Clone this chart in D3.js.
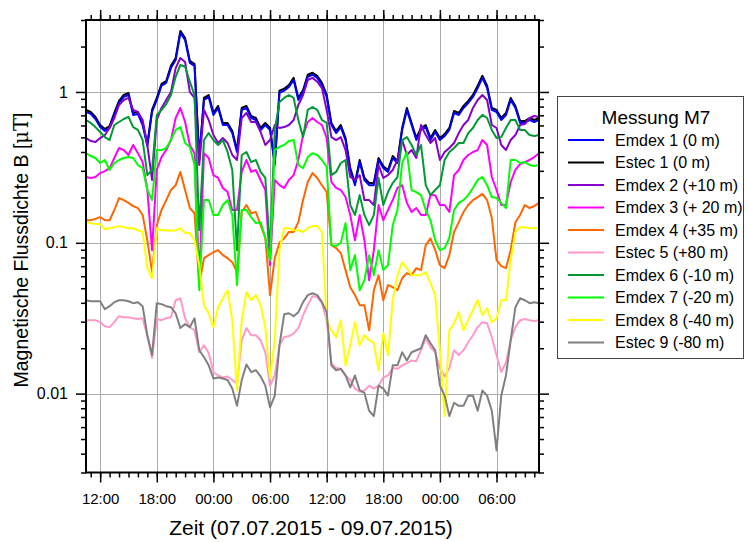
<!DOCTYPE html>
<html>
<head>
<meta charset="utf-8">
<script src="https://cdn.jsdelivr.net/npm/d3@7"></script>
<style>
  body { margin: 0; background: #fff; }
  svg { display: block; }
  text { font-family: "Liberation Sans", Arial, Helvetica, sans-serif; fill: #000; }
</style>
</head>
<body>
<svg id="chart" width="747" height="542"></svg>
<script>
// Half-hourly readings, 07.07.2015 10:30 to 09.07.2015 10:30 (UTC clock labels)
const startTime = Date.UTC(2015, 6, 7, 10, 30);
const stepMinutes = 30;

const emdex1 = [0.737,0.715,0.662,0.585,0.552,0.577,0.704,0.845,0.927,0.955,
0.704,0.715,0.604,0.438,0.737,0.885,1.10,1.15,1.44,1.63,
2.46,2.21,1.56,1.49,0.354,0.885,0.927,0.704,0.783,0.604,
0.604,0.534,0.400,0.760,0.783,0.672,0.652,0.560,0.604,0.560,
0.328,0.985,1.02,1.08,1.20,0.885,1.00,1.26,1.30,1.24,
1.11,0.927,0.604,0.534,0.585,0.480,0.304,0.241,0.343,0.261,
0.241,0.241,0.354,0.313,0.295,0.365,0.338,0.560,0.760,0.604,
0.480,0.560,0.585,0.480,0.543,0.480,0.510,0.560,0.726,0.704,
0.783,0.845,0.927,1.06,1.24,1.06,0.760,0.737,0.652,0.704,
0.885,0.783,0.623,0.623,0.652,0.632,0.652];

const estec1 = [0.760,0.737,0.683,0.604,0.568,0.595,0.726,0.872,0.955,0.985,
0.726,0.737,0.623,0.452,0.760,0.913,1.13,1.18,1.49,1.68,
2.54,2.28,1.61,1.53,0.365,0.913,0.955,0.726,0.808,0.623,
0.623,0.552,0.412,0.783,0.808,0.693,0.672,0.577,0.623,0.577,
0.338,1.02,1.05,1.11,1.24,0.913,1.03,1.30,1.34,1.28,
1.15,0.955,0.623,0.552,0.604,0.495,0.313,0.249,0.354,0.269,
0.249,0.249,0.365,0.322,0.304,0.376,0.348,0.577,0.783,0.623,
0.495,0.577,0.604,0.495,0.560,0.495,0.526,0.577,0.748,0.726,
0.808,0.872,0.955,1.10,1.28,1.10,0.783,0.760,0.672,0.726,
0.913,0.808,0.642,0.642,0.672,0.652,0.672];

const emdex2 = [0.495,0.473,0.466,0.495,0.518,0.577,0.672,0.820,0.885,0.913,
0.760,0.737,0.652,0.445,0.261,0.652,0.783,0.885,1.00,1.44,
1.68,1.58,1.00,0.913,0.328,0.760,0.652,0.518,0.459,0.495,
0.459,0.382,0.354,0.672,0.726,0.632,0.632,0.543,0.445,0.480,
0.604,0.577,0.585,0.604,0.652,0.820,0.955,1.20,1.24,1.17,
1.06,0.760,0.502,0.480,0.502,0.412,0.273,0.261,0.281,0.192,
0.192,0.178,0.328,0.269,0.281,0.304,0.354,0.480,0.382,0.412,
0.365,0.604,0.518,0.459,0.495,0.354,0.400,0.425,0.459,0.534,
0.604,0.652,0.783,0.885,0.955,0.885,0.604,0.577,0.445,0.412,
0.480,0.518,0.604,0.613,0.672,0.693,0.683];

const emdex3 = [0.273,0.269,0.273,0.290,0.299,0.313,0.365,0.425,0.412,0.382,
0.445,0.393,0.343,0.224,0.0894,0.304,0.370,0.412,0.480,0.672,
0.783,0.632,0.445,0.393,0.0565,0.393,0.365,0.281,0.269,0.231,
0.217,0.165,0.165,0.295,0.354,0.295,0.304,0.261,0.224,0.0711,
0.261,0.241,0.231,0.261,0.281,0.354,0.518,0.632,0.672,0.632,
0.604,0.495,0.253,0.231,0.224,0.201,0.153,0.104,0.153,0.104,
0.0565,0.0894,0.178,0.141,0.165,0.192,0.231,0.241,0.184,0.160,
0.170,0.153,0.153,0.207,0.207,0.178,0.178,0.160,0.281,0.304,
0.354,0.382,0.400,0.412,0.480,0.445,0.273,0.224,0.178,0.178,
0.253,0.304,0.333,0.343,0.354,0.370,0.393];

const emdex4 = [0.141,0.141,0.144,0.148,0.141,0.141,0.165,0.198,0.192,0.184,
0.175,0.170,0.153,0.104,0.0639,0.131,0.165,0.192,0.224,0.241,
0.295,0.224,0.170,0.157,0.0524,0.0791,0.0828,0.0866,0.0894,0.0828,
0.0791,0.0744,0.0639,0.160,0.178,0.157,0.160,0.131,0.108,0.0450,
0.0791,0.100,0.107,0.118,0.118,0.137,0.192,0.253,0.290,0.269,
0.241,0.217,0.0965,0.0923,0.0855,0.0659,0.0508,0.0450,0.0386,0.0386,
0.0263,0.0485,0.0610,0.0416,0.0524,0.0508,0.0485,0.0582,0.0630,0.0610,
0.0679,0.0659,0.0965,0.107,0.0894,0.0711,0.0679,0.0828,0.118,0.137,
0.160,0.178,0.192,0.201,0.211,0.192,0.146,0.0767,0.0700,0.0679,
0.0894,0.137,0.153,0.178,0.170,0.175,0.184];

const estec5 = [0.0307,0.0307,0.0307,0.0298,0.0280,0.0276,0.0298,0.0326,0.0321,0.0321,
0.0316,0.0312,0.0316,0.0240,0.0172,0.0312,0.0307,0.0316,0.0321,0.0416,
0.0429,0.0316,0.0276,0.0263,0.0188,0.0209,0.0186,0.0139,0.0132,0.0128,
0.0130,0.0123,0.0117,0.0226,0.0272,0.0244,0.0244,0.0226,0.0188,0.0112,
0.0132,0.0209,0.0237,0.0240,0.0251,0.0272,0.0331,0.0386,0.0443,0.0437,
0.0398,0.0307,0.0159,0.0148,0.0146,0.0132,0.0123,0.0108,0.0103,0.0105,
0.0113,0.0108,0.0113,0.0128,0.0132,0.0148,0.0146,0.0154,0.0159,0.0166,
0.0164,0.0194,0.0233,0.0203,0.0188,0.0148,0.0130,0.0148,0.0194,0.0180,
0.0194,0.0219,0.0244,0.0276,0.0298,0.0293,0.0237,0.0180,0.0139,0.0161,
0.0226,0.0276,0.0307,0.0312,0.0307,0.0303,0.0307];

const emdex6 = [0.652,0.623,0.585,0.543,0.502,0.480,0.604,0.632,0.662,0.683,
0.585,0.560,0.480,0.281,0.304,0.704,0.760,0.832,0.955,1.26,
1.51,1.47,1.17,0.955,0.121,0.480,0.534,0.480,0.445,0.480,
0.400,0.304,0.0894,0.382,0.400,0.343,0.354,0.295,0.269,0.0894,
0.560,0.858,0.913,0.955,0.913,0.652,0.502,0.760,0.795,0.760,
0.652,0.623,0.281,0.295,0.338,0.354,0.178,0.153,0.207,0.153,
0.131,0.153,0.269,0.178,0.217,0.249,0.273,0.480,0.502,0.445,
0.382,0.445,0.241,0.207,0.224,0.241,0.354,0.400,0.425,0.459,
0.459,0.534,0.577,0.652,0.704,0.672,0.560,0.495,0.502,0.577,
0.652,0.652,0.560,0.560,0.518,0.510,0.518];

const emdex7 = [0.393,0.376,0.365,0.338,0.354,0.304,0.338,0.354,0.365,0.370,
0.365,0.328,0.313,0.224,0.192,0.412,0.412,0.425,0.480,0.560,
0.585,0.459,0.432,0.328,0.0485,0.192,0.192,0.153,0.153,0.178,
0.192,0.153,0.0524,0.165,0.165,0.148,0.135,0.137,0.108,0.0767,
0.412,0.432,0.445,0.473,0.480,0.328,0.313,0.370,0.393,0.382,
0.354,0.318,0.0965,0.0951,0.100,0.135,0.0659,0.0828,0.0485,0.0565,
0.0828,0.0610,0.0894,0.0659,0.0711,0.131,0.165,0.338,0.400,0.224,
0.217,0.207,0.165,0.141,0.104,0.0894,0.0923,0.108,0.165,0.184,
0.192,0.207,0.231,0.261,0.273,0.241,0.201,0.198,0.184,0.170,
0.354,0.354,0.338,0.343,0.328,0.323,0.328];

const emdex8 = [0.137,0.135,0.133,0.133,0.123,0.125,0.127,0.129,0.127,0.125,
0.125,0.121,0.118,0.0679,0.0582,0.125,0.121,0.121,0.120,0.121,
0.125,0.116,0.116,0.104,0.0711,0.0386,0.0341,0.0276,0.0374,0.0429,
0.0485,0.0307,0.0105,0.0307,0.0471,0.0416,0.0450,0.0386,0.0276,0.0126,
0.0226,0.0894,0.125,0.125,0.121,0.121,0.118,0.125,0.129,0.129,
0.118,0.0307,0.0263,0.0237,0.0307,0.0154,0.0209,0.0298,0.0209,0.0244,
0.0226,0.0216,0.0143,0.0251,0.0180,0.0416,0.0610,0.0744,0.0679,0.0610,
0.0610,0.0610,0.0639,0.0540,0.0450,0.0194,0.0071,0.0263,0.0293,0.0347,
0.0263,0.0307,0.0357,0.0416,0.0331,0.0368,0.0298,0.0316,0.0416,0.0416,
0.0767,0.118,0.127,0.127,0.125,0.125,0.125];

const estec9 = [0.0416,0.0410,0.0410,0.0410,0.0363,0.0380,0.0404,0.0416,0.0416,0.0410,
0.0398,0.0404,0.0380,0.0244,0.0180,0.0398,0.0392,0.0380,0.0374,0.0341,
0.0272,0.0289,0.0276,0.0316,0.0194,0.0175,0.0154,0.0126,0.0128,0.0126,
0.0123,0.0108,0.0083,0.0123,0.0156,0.0139,0.0143,0.0130,0.0113,0.0081,
0.0097,0.0209,0.0336,0.0341,0.0326,0.0347,0.0404,0.0450,0.0463,0.0450,
0.0404,0.0347,0.0154,0.0143,0.0146,0.0132,0.0110,0.0132,0.0105,0.0101,
0.0077,0.0071,0.0113,0.0108,0.0097,0.0154,0.0154,0.0188,0.0166,0.0188,
0.0194,0.0200,0.0244,0.0216,0.0194,0.0113,0.0097,0.0071,0.0087,0.0083,
0.0083,0.0097,0.0097,0.0077,0.0105,0.0097,0.0077,0.0042,0.0097,0.0132,
0.0226,0.0374,0.0429,0.0416,0.0398,0.0404,0.0398];

const seriesNames = ["Emdex 1 (0 m)", "Estec 1 (0 m)", "Emdex 2 (+10 m)", "Emdex 3 (+ 20 m)",
  "Emdex 4 (+35 m)", "Estec 5 (+80 m)", "Emdex 6 (-10 m)", "Emdex 7 (-20 m)",
  "Emdex 8 (-40 m)", "Estec 9 (-80 m)"];
const seriesValues = [emdex1, estec1, emdex2, emdex3, emdex4, estec5, emdex6, emdex7, emdex8, estec9];
const seriesColors = ["#0000ff", "#000000", "#8800cc", "#ff00ff", "#ff6600",
  "#ff99cc", "#009933", "#00ff00", "#ffff00", "#808080"];
// drawing order: Estec 1 sits under Emdex 1, everything else follows the legend
const drawOrder = [1, 0, 2, 3, 4, 5, 6, 7, 8, 9];

const yMajorTicks = [0.01, 0.1, 1];
const yTickLabels = ["0.01", "0.1", "1"];
const legendTitle = "Messung M7";
const xTitle = "Zeit (07.07.2015 - 09.07.2015)";

const times = seriesValues[0].map((_, i) => new Date(startTime + i * stepMinutes * 60000));

const plot = { left: 86, right: 539, top: 20, bottom: 472.5 };

const svg = d3.select("#chart");

const x = d3.scaleUtc()
  .domain([new Date(startTime), new Date(startTime + 48 * 3600000)])
  .range([plot.left, plot.right]);
const y = d3.scaleLog().domain([0.003, 3]).range([plot.bottom, plot.top]);

// grid
const grid = svg.append("g").attr("stroke", "#ababab").attr("stroke-width", 1);
grid.selectAll("line.v").data(d3.utcHour.every(6).range(x.domain()[0], x.domain()[1]))
  .join("line").attr("class", "v")
  .attr("x1", d => Math.round(x(d)) + 0.5).attr("x2", d => Math.round(x(d)) + 0.5)
  .attr("y1", plot.top).attr("y2", plot.bottom);
grid.selectAll("line.h").data(yMajorTicks)
  .join("line").attr("class", "h")
  .attr("y1", d => Math.round(y(d)) + 0.5).attr("y2", d => Math.round(y(d)) + 0.5)
  .attr("x1", plot.left).attr("x2", plot.right);

// series
svg.append("clipPath").attr("id", "plotClip")
  .append("rect").attr("x", plot.left).attr("y", plot.top)
  .attr("width", plot.right - plot.left).attr("height", plot.bottom - plot.top);

const line = d3.line().x((d, i) => x(times[i])).y(d => y(d));
const lines = svg.append("g").attr("clip-path", "url(#plotClip)");
drawOrder.forEach(k => {
  lines.append("path")
    .datum(seriesValues[k])
    .attr("fill", "none")
    .attr("stroke", seriesColors[k])
    .attr("stroke-width", 2)
    .attr("stroke-linejoin", "round")
    .attr("d", line);
});

// axes (ticks outward on all four sides)
const majorX = d3.utcHour.every(6);
const minorX = d3.utcHour.every(1);
const yMinor = y.ticks().filter(v => !yMajorTicks.includes(+v.toPrecision(6)));

function styleAxis(g, size) {
  g.select(".domain").remove();
  g.selectAll(".tick line").attr("stroke", "#000").attr("stroke-width", 1.5);
  g.selectAll("text").style("font-size", (size || 15) + "px")
    .attr("font-family", '"Liberation Sans", Arial, sans-serif');
}

svg.append("g").attr("transform", `translate(0,${plot.bottom})`)
  .call(d3.axisBottom(x).ticks(minorX).tickSize(5).tickFormat(""))
  .call(styleAxis);
svg.append("g").attr("transform", `translate(0,${plot.bottom})`)
  .call(d3.axisBottom(x).ticks(majorX).tickSize(10).tickPadding(10.5).tickFormat(d3.utcFormat("%H:%M")))
  .call(styleAxis, 15);
svg.append("g").attr("transform", `translate(0,${plot.top})`)
  .call(d3.axisTop(x).ticks(minorX).tickSize(5).tickFormat(""))
  .call(styleAxis);
svg.append("g").attr("transform", `translate(0,${plot.top})`)
  .call(d3.axisTop(x).ticks(majorX).tickSize(10).tickFormat(""))
  .call(styleAxis);

svg.append("g").attr("transform", `translate(${plot.left},0)`)
  .call(d3.axisLeft(y).tickValues(yMinor).tickSize(5).tickFormat(""))
  .call(styleAxis);
svg.append("g").attr("transform", `translate(${plot.left},0)`)
  .call(d3.axisLeft(y).tickValues(yMajorTicks).tickSize(10).tickPadding(8)
    .tickFormat((d, i) => yTickLabels[i]))
  .call(styleAxis, 16);
svg.append("g").attr("transform", `translate(${plot.right},0)`)
  .call(d3.axisRight(y).tickValues(yMinor).tickSize(5).tickFormat(""))
  .call(styleAxis);
svg.append("g").attr("transform", `translate(${plot.right},0)`)
  .call(d3.axisRight(y).tickValues(yMajorTicks).tickSize(10).tickFormat(""))
  .call(styleAxis);

// frame
svg.append("rect")
  .attr("x", plot.left).attr("y", plot.top)
  .attr("width", plot.right - plot.left).attr("height", plot.bottom - plot.top)
  .attr("fill", "none").attr("stroke", "#000").attr("stroke-width", 2);

// axis titles
svg.append("text")
  .attr("x", 311).attr("y", 535)
  .attr("text-anchor", "middle").style("font-size", "21px")
  .text(xTitle);

const yTitle = svg.append("text")
  .attr("transform", "translate(28,250) rotate(-90)")
  .attr("text-anchor", "middle").style("font-size", "19.5px");
yTitle.append("tspan").text("Magnetische Flussdichte B [");
yTitle.append("tspan").attr("font-family", '"DejaVu Serif", "Liberation Serif", serif').text("μT");
yTitle.append("tspan").text("]");

// legend
const legend = svg.append("g");
legend.append("rect")
  .attr("x", 557.5).attr("y", 96.5).attr("width", 186).attr("height", 262)
  .attr("fill", "#fff").attr("stroke", "#444").attr("stroke-width", 1);
legend.append("text")
  .attr("x", 656).attr("y", 123.5).attr("text-anchor", "middle")
  .style("font-size", "19px").text(legendTitle);
const rowY = d3.scaleLinear().domain([0, 1]).range([140, 162.5]);
seriesNames.forEach((name, k) => {
  const yy = rowY(k);
  legend.append("line")
    .attr("x1", 568).attr("x2", 604).attr("y1", yy).attr("y2", yy)
    .attr("stroke", seriesColors[k]).attr("stroke-width", 2);
  legend.append("text")
    .attr("x", 615).attr("y", yy + 5.5)
    .style("font-size", "16px").text(name);
});
</script>
</body>
</html>
